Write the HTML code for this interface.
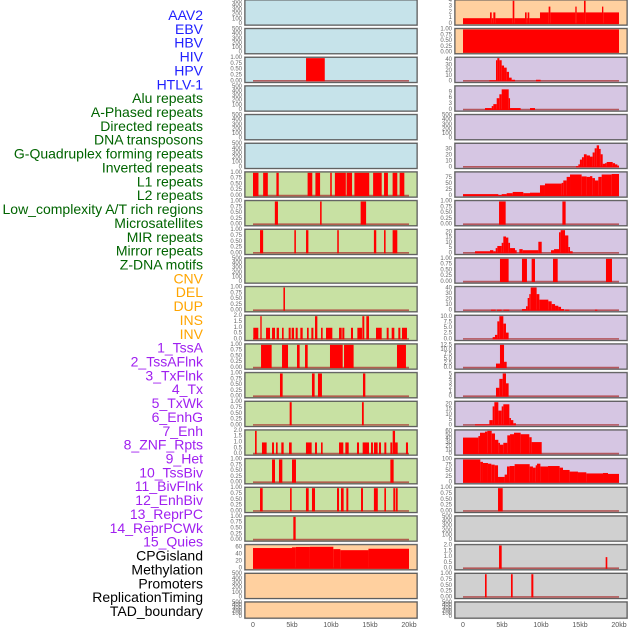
<!DOCTYPE html>
<html><head><meta charset="utf-8"><style>
html,body{margin:0;padding:0;background:#fff;}
svg{display:block;font-family:"Liberation Sans",sans-serif;}
</style></head><body>
<svg id="fig" width="630" height="630" viewBox="0 0 630 630"></svg>
<script>
const trackNames=["AAV2","EBV","HBV","HIV","HPV","HTLV-1","Alu repeats","A-Phased repeats","Directed repeats","DNA transposons","G-Quadruplex forming repeats","Inverted repeats","L1 repeats","L2 repeats","Low_complexity A/T rich regions","Microsatellites","MIR repeats","Mirror repeats","Z-DNA motifs","CNV","DEL","DUP","INS","INV","1_TssA","2_TssAFlnk","3_TxFlnk","4_Tx","5_TxWk","6_EnhG","7_Enh","8_ZNF_Rpts","9_Het","10_TssBiv","11_BivFlnk","12_EnhBiv","13_ReprPC","14_ReprPCWk","15_Quies","CPGisland","Methylation","Promoters","ReplicationTiming","TAD_boundary"];
const labelColors=["#2020ff","#006400","#ffa500","#a020f0","#000000"];
const labelGroup=[0,0,0,0,0,0,1,1,1,1,1,1,1,1,1,1,1,1,1,2,2,2,2,2,3,3,3,3,3,3,3,3,3,3,3,3,3,3,3,4,4,4,4,4];
const bgColors=["#c6e3ea","#c8e1a3","#ffd09f","#d6c6e3","#d0d0d0"];
const E=["0","100","200","300","400","500"],P=["0.00","0.25","0.50","0.75","1.00"],D=["0.0","0.5","1.0","1.5","2.0"];
const trackTicks=[E,E,P,E,E,E,P,P,P,E,P,D,P,P,P,D,P,P,P,["0","20","40","60"],E,E,
 ["0","1","2","3","4"],P,["0","10","20","30","40"],["0","3","6","9"],E,["0","10","20","30"],["0","25","50","75"],P,["0","5","10","15","20"],P,["0","10","20","30","40"],["0.0","2.5","5.0","7.5","10.0"],["0.0","2.5","5.0","7.5","10.0","12.5"],["0","1","2","3","4","5"],["0","5","10","15","20"],["0","10","20","30","40","50","60"],["0","25","50","75","100"],P,E,D,P,E];
const trackMax=[500,500,1,500,500,500,1,1,1,500,1,2,1,1,1,2,1,1,1,65,500,500,
 4,1,44,11.8,500,39,97,1,22,1,42,10.3,13,5.2,22,62,100,1,500,2,1,500];
const trackBars=[
[],[],[[6.8,9.2,1]],[],[],[],
[[0,0.7,1],[1.3,1.9,1],[3,3.3,1],[7,7.6,1],[8,8.6,1],[9.9,10.1,1],[10.5,11.9,1],[12,12.7,1],[13,14.9,1],[15.4,16.5,1],[16.8,17.3,1],[17.9,18.5,1],[18.8,19.4,1]],
[[2.8,3.2,1],[8.6,8.8,1],[13.8,14.5,1]],
[[0.9,1.3,1],[5.3,5.5,1],[6.8,7.1,1],[10.8,11,1],[15.5,15.8,1],[16.8,17,1],[17.9,18.5,1]],
[],
[[3.9,4.1,1]],
[[0.04,0.68,1],[0.94,1.11,2],[1.67,2.18,1],[2.44,2.82,1],[3.03,3.33,1],[3.72,3.93,1],[4.57,4.83,1],[4.96,5.26,1],[5.47,5.73,1],[6.07,6.37,1],[6.92,7.14,1],[7.48,7.74,1],[7.95,8.25,2],[8.72,8.93,1],[9.36,10.17,1],[11.03,11.37,1],[11.45,11.71,1],[12.56,12.82,1],[13.38,13.97,1],[14.02,14.27,2],[14.53,14.87,2],[15.77,16.5,1],[17.14,17.39,1],[17.78,18.12,1],[18.63,18.89,1],[19.1,19.74,1]],
[[1.03,2.39,1],[3.72,4.49,1],[5.64,5.98,1],[6.67,7.01,1],[9.87,11.5,1],[11.67,12.9,1],[18.46,19.61,1]],
[[3.46,3.8,1],[7.56,7.9,1],[8.33,8.84,1],[14.1,14.4,1]],
[[4.7,4.96,1],[13.97,14.2,1]],
[[0.26,0.47,2],[1.15,1.75,1],[2.44,2.69,1],[2.95,3.16,1],[3.63,3.93,1],[4.62,4.96,1],[6.79,7.52,1],[7.95,8.2,1],[8.72,8.93,1],[11.03,11.58,1],[11.84,12.27,1],[13.33,13.59,1],[14.06,14.87,1],[15.13,15.38,1],[15.51,15.98,1],[16.15,16.41,1],[16.84,17.09,1],[17.61,17.86,1],[17.91,18.21,2],[18.21,18.55,1],[19.61,19.87,1]],
[[2.44,2.82,1],[3.33,3.76,1],[5.0,5.51,1],[17.61,18.03,1]],
[[0.9,1.24,1],[4.75,4.96,1],[6.79,7.14,1],[7.56,7.95,1],[10.77,11.03,1],[11.28,11.62,1],[11.97,12.22,1],[13.85,14.1,1],[15.5,16.0,1],[16.84,17.05,1],[17.99,18.25,1],[18.33,18.55,1]],
[[5.17,5.47,1]],
[[0,5,58],[5,5.5,60],[5.5,7.3,61],[7.3,10.3,61.5],[10.3,11.2,55],[11.2,14.8,52],[14.8,20,56]],
[],[],
[[0,3.46,1],[3.46,3.68,2],[3.68,3.89,1],[3.89,4.15,2],[4.15,6.37,1],[6.37,6.58,4],[6.58,7.95,1],[7.95,8.16,2],[8.16,8.29,1],[8.29,8.5,2],[8.5,9.87,1],[9.87,10.98,2],[10.98,11.2,3],[11.2,14.4,2],[14.4,14.57,3],[14.57,15.51,2],[15.51,15.72,4],[15.72,17.82,2],[17.82,17.99,3],[17.99,20,2]],
[[0,20,1]],
[[3.38,4.23,2],[4.23,4.4,40],[4.4,4.66,44],[4.66,4.96,40],[4.96,5.26,30],[5.26,5.6,26],[5.6,5.9,18],[5.9,6.24,7],[6.24,6.67,3],[9.36,9.95,3]],
[[2.82,3.68,1],[3.68,3.89,2],[3.89,4.32,3],[4.32,4.66,6],[4.66,4.96,8],[4.96,5.86,10.5],[5.86,6.03,6],[6.03,7.39,1],[8.59,9.23,1]],
[],
[[14.49,14.79,2],[14.79,14.99,5],[14.99,15.25,13],[15.25,15.5,17],[15.5,15.85,22],[15.85,16.28,20],[16.28,16.62,18],[16.62,16.88,25],[16.88,17.14,32],[17.14,17.44,37],[17.44,17.65,31],[17.65,17.91,22],[17.91,18.21,6],[18.21,18.42,7],[18.42,19.19,9],[19.19,19.49,7],[19.49,19.79,5],[19.79,20,3]],
[[0,4.53,8],[4.53,4.96,4],[4.96,5.6,8],[5.6,6.37,12],[6.37,7.73,17],[7.73,8.59,12],[8.59,9.87,14],[9.87,10.51,45],[10.51,12.65,52],[12.65,12.86,55],[12.86,13.29,65],[13.29,13.72,80],[13.72,15.21,90],[15.21,15.85,82],[15.85,16.28,80],[16.28,16.58,83],[16.58,16.92,75],[16.92,17.35,65],[17.35,17.78,80],[17.78,19.06,90],[19.06,20,92]],
[[4.62,5.47,1],[12.74,13.16,1]],
[[1.54,3.46,2],[3.46,3.89,3],[3.89,4.19,2],[4.19,4.4,5],[4.4,4.96,7],[4.96,5.17,10],[5.17,5.51,16],[5.51,5.81,15],[5.81,6.03,10],[6.03,6.67,5],[6.67,6.88,3],[7.22,7.65,4],[7.65,9.66,3],[9.66,10.09,11],[11.28,11.67,3],[11.67,12.31,4],[12.31,12.52,20],[12.52,13.08,22],[13.08,13.5,17],[13.5,13.72,6],[13.72,14.06,2]],
[[4.74,5.85,1],[7.56,8.2,1],[8.8,9.23,1],[11.54,12.14,1],[18.33,19.1,1]],
[[3.59,4.19,2],[4.36,4.96,2],[5.17,5.94,2],[7.56,8.08,3],[8.08,8.29,8],[8.29,8.5,23],[8.5,8.68,30],[8.68,9.44,42],[9.44,9.79,30],[9.79,10.94,20],[10.94,11.37,17],[11.37,11.8,12],[11.8,12.22,9],[12.22,12.57,7],[12.57,12.95,3],[13.08,13.63,2],[16.92,17.22,2]],
[[3.8,4.1,1],[4.1,4.4,2],[4.4,4.66,8],[4.66,5.17,10.3],[5.17,5.51,7],[5.51,5.85,3]],
[[4.23,4.74,2.5],[4.74,5.26,13],[5.26,5.6,3.5]],
[[4.23,4.66,2],[4.66,5.09,4],[5.09,5.51,5.2],[5.51,5.85,3]],
[[1.54,3.38,1],[3.38,3.8,5],[3.8,4.02,18],[4.02,4.53,22],[4.53,4.96,14],[4.96,5.17,18],[5.17,5.94,20],[5.94,6.15,7],[6.15,6.45,5],[6.45,6.79,2]],
[[0,1.97,44],[1.97,2.18,48],[2.18,2.82,57],[2.82,3.12,60],[3.12,3.68,62],[3.68,4.1,55],[4.1,4.53,38],[4.53,4.74,30],[4.74,5.17,25],[5.17,5.68,30],[5.68,6.03,50],[6.03,6.54,53],[6.54,7.39,57],[7.39,8.5,53],[8.5,8.8,45],[8.8,10.09,32]],
[[0,2.22,100],[2.22,2.56,90],[2.56,3.2,85],[3.2,3.63,82],[3.63,4.06,78],[4.06,4.49,75],[4.49,5.34,25],[5.34,5.64,35],[5.64,5.98,70],[5.98,6.62,72],[6.62,8.55,80],[8.55,8.97,70],[8.97,9.32,65],[9.32,9.49,75],[9.49,9.92,82],[9.92,10.9,70],[10.9,12.39,72],[12.39,12.82,65],[12.82,13.67,55],[13.67,14.74,48],[14.74,15.81,45],[15.81,17.95,40],[17.95,18.59,42],[18.59,20,38]],
[[4.49,5.09,1]],
[],
[[4.62,4.96,2],[18.29,18.5,1]],
[[2.82,3.03,1],[6.15,6.37,1],[8.76,9.02,1]],
[]
];
const xTickLabels=["0","5kb","10kb","15kb","20kb"];
const xTickValues=[0,5,10,15,20];

const NS="http://www.w3.org/2000/svg";
const svg=document.getElementById('fig');
function mk(tag,attrs,parent){const e=document.createElementNS(NS,tag);for(const k in attrs)e.setAttribute(k,attrs[k]);(parent||svg).appendChild(e);return e;}
const PITCH=28.67, PW=172, PH=25, COLX=[245,455], X0OFF=8, PXKB=7.8;
function xScale(col,kb){return COLX[col]+X0OFF+kb*PXKB;}

// labels
trackNames.forEach((n,i)=>{
  const t=mk('text',{x:203,y:15+i*13.86,'text-anchor':'end','dominant-baseline':'central','font-size':'14',fill:labelColors[labelGroup[i]]});
  
  
  t.textContent=n;
});

trackBars.forEach((bars,i)=>{
  const col=i<22?0:1, row=i%22;
  const top=row*PITCH, h=row===21?16:PH;
  const x=COLX[col];
  const g=mk('g',{});
  
  
  mk('rect',{x:x-0.5,y:top-0.5,width:PW+1,height:h+1,fill:'none',stroke:'#aaa','stroke-width':1},g);
  mk('rect',{x:x,y:top,width:PW,height:h,fill:bgColors[labelGroup[i]],stroke:'#555','stroke-width':1},g);
  const y0=top+h-1, yTop=top+0.8, max=trackMax[i];
  const yS=v=>y0-(v/max)*(y0-yTop);
  if(bars.length){
    const bl=mk('line',{x1:xScale(col,0),x2:xScale(col,20),y1:y0-0.5,y2:y0-0.5,stroke:'rgba(170,50,50,0.75)','stroke-width':1.6},g);
    
    
  }
  bars.forEach(b=>{
    const x1=xScale(col,b[0]), x2=xScale(col,b[1]);
    const r=mk('rect',{x:x1,y:yS(b[2]),width:Math.max(1.2,x2-x1),height:y0-yS(b[2]),fill:'#ff0000'},g);
    
    
  });
  const ticks=trackTicks[i];
  ticks.forEach(tk=>{
    const v=parseFloat(tk);
    const t=mk('text',{x:x-3,y:yS(v),'text-anchor':'end','dominant-baseline':'central','font-size':'6',fill:'#666'},g);
    
    
    t.textContent=tk;
  });
});

[0,1].forEach(col=>{
  xTickValues.forEach((v,j)=>{
    const t=mk('text',{x:xScale(col,v),y:627,'text-anchor':'middle','font-size':'7',fill:'#555'});
    
    
    t.textContent=xTickLabels[j];
  });
});
</script>
</body></html>
